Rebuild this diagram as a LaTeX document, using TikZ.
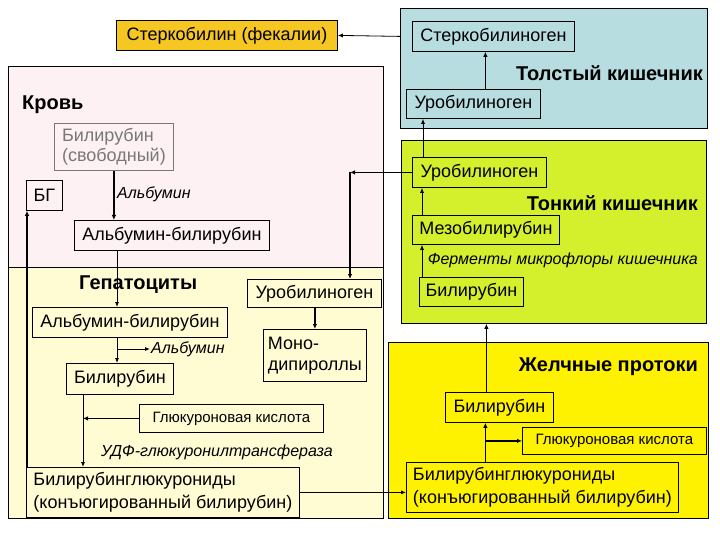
\documentclass[tikz,border=0pt]{standalone}
\usepackage{fontspec}
\setmainfont{Liberation Sans}
\usetikzlibrary{arrows.meta,calc}
\definecolor{gold}{RGB}{246,198,34}
\definecolor{tealbg}{RGB}{184,221,224}
\definecolor{bloodbg}{RGB}{253,241,243}
\definecolor{hepbg}{RGB}{255,252,212}
\definecolor{greenbg}{RGB}{212,240,44}
\definecolor{bilebg}{RGB}{255,242,0}
\definecolor{grayt}{RGB}{120,120,120}
\begin{document}
\begin{tikzpicture}[x=1pt,y=-1pt,
  every node/.style={font=\fontsize{18}{21}\selectfont},
  box/.style={draw=black, line width=0.8pt, inner sep=0pt, anchor=north west},
  region/.style={draw=black, line width=0.8pt, inner sep=0pt, anchor=north west},
  lbl/.style={font=\bfseries\fontsize{20}{22}\selectfont, inner sep=0pt},
  note/.style={font=\itshape\fontsize{16}{18}\selectfont, inner sep=1pt},
  small/.style={font=\fontsize{15}{17}\selectfont},
  arr/.style={-{Latex[length=5pt,width=4pt]}, line width=0.8pt},
  tarr/.style={-{Latex[length=5pt,width=4.5pt]}, line width=1.6pt},
]
\useasboundingbox[fill=white] (0,0) rectangle (720,540);
% regions
\node[region, fill=tealbg, minimum width=307, minimum height=120] (teal) at (400,8) {};
\node[region, fill=bloodbg, minimum width=375, minimum height=201] (blood) at (8,66) {};
\node[region, fill=hepbg, minimum width=375, minimum height=251] (hep) at (8,267) {};
\node[region, fill=greenbg, minimum width=305, minimum height=183] (green) at (401,140) {};
\node[region, fill=bilebg, minimum width=320, minimum height=176] (bile) at (388,342) {};
% region labels
\node[lbl, anchor=east] (tlab) at (703,73) {Толстый кишечник};
\node[lbl, anchor=west] (klab) at (22,105) {Кровь};
\node[lbl, anchor=west] (hlab) at (79,285) {Гепатоциты};
\node[lbl, anchor=east] (slab) at (698,203) {Тонкий кишечник};
\node[lbl, anchor=east] (blab) at (698,367) {Желчные протоки};
% boxes
\node[box, fill=gold, minimum width=221, minimum height=30] (sterk) at (116,20) {Стеркобилин (фекалии)};
\node[box, minimum width=162, minimum height=30] (sterkogen) at (412,21) {Стеркобилиноген};
\node[box, minimum width=134, minimum height=29] (uroL) at (406,89) {Уробилиноген};
\node[box, draw=grayt, text=grayt, align=left, font=\fontsize{18}{20}\selectfont, minimum width=119, minimum height=47] (bilfree) at (54,123) {Билирубин\\(свободный)};
\node[box, minimum width=36, minimum height=30] (bg) at (26,180) {БГ};
\node[note, anchor=west] (alb1) at (116,194) {Альбумин};
\node[box, minimum width=195, minimum height=30] (albB) at (74,220) {Альбумин-билирубин};
\node[box, minimum width=134, minimum height=28] (uroH) at (247,279) {Уробилиноген};
\node[box, minimum width=195, minimum height=30] (albH) at (32,307) {Альбумин-билирубин};
\node[box, align=left, minimum width=103, minimum height=52] (mono) at (263,329) {Моно-\\дипироллы};
\node[note, anchor=west] (alb2) at (150,349) {Альбумин};
\node[box, minimum width=107, minimum height=31] (bilH) at (66,363) {Билирубин};
\node[box, small, minimum width=184, minimum height=28] (gluH) at (139,404) {Глюкуроновая кислота};
\node[note, anchor=west] (udf) at (100,452) {УДФ-глюкуронилтрансфераза};
\node[box, align=left, font=\fontsize{18}{23}\selectfont, minimum width=273, minimum height=50] (bgH) at (26,467) {Билирубинглюкурониды\\(конъюгированный билирубин)};
\node[box, minimum width=134, minimum height=30] (uroS) at (412,157) {Уробилиноген};
\node[box, minimum width=147, minimum height=29] (mezo) at (412,215) {Мезобилирубин};
\node[note, anchor=east] (ferm) at (699,260) {Ферменты микрофлоры кишечника};
\node[box, minimum width=104, minimum height=29] (bilS) at (419,277) {Билирубин};
\node[box, minimum width=108, minimum height=30] (bilB) at (445,392) {Билирубин};
\node[box, small, minimum width=184, minimum height=27] (gluB) at (522,427) {Глюкуроновая кислота};
\node[box, align=left, font=\fontsize{18}{23}\selectfont, minimum width=272, minimum height=50] (bgB) at (406,462) {Билирубинглюкурониды\\(конъюгированный билирубин)};
% helper coordinates
\coordinate (ax) at (117,0);
\coordinate (bx) at (83,0);
\coordinate (cr) at ($(uroS.west)+(-62,0)$);
% connectors
\draw[arr] (teal.west |- sterkogen.west) -- (sterk.east);
\draw[tarr] ([xshift=12pt]uroL.north) -- ([xshift=12pt]uroL.north |- sterkogen.south);
\draw[arr] ([xshift=11pt]uroS.north west) -- ([xshift=11pt]uroS.north west |- uroL.south);
\draw[arr] ([xshift=10pt]mezo.north west) -- ([xshift=10pt]mezo.north west |- uroS.south);
\draw[arr] ([xshift=3pt]bilS.north west) -- ([xshift=3pt]bilS.north west |- mezo.south);
\draw[tarr] ([xshift=-13pt]bilB.north) -- ([xshift=-13pt]bilB.north |- green.south);
\draw[tarr] ([xshift=-14pt]bilB.south |- bgB.north) -- ([xshift=-14pt]bilB.south);
\draw[tarr] ([xshift=-14pt]bilB.south |- gluB.west) -- (gluB.west);
\draw[arr] (bgH.east) -- (bgH.east -| bgB.west);
\draw[tarr] ([xshift=1pt]bgH.north west) -- ([xshift=1pt]bgH.north west |- bg.south);
\draw[tarr] (bilfree.south) -- (bilfree.south |- albB.north);
\draw[arr] (ax |- albB.south) -- (ax |- albH.north);
\draw[arr] (ax |- albH.south) -- (ax |- bilH.north);
\draw[arr] (ax |- alb2.west) -- (alb2.west);
\draw[arr] (bx |- bilH.south) -- (bx |- bgH.north);
\draw[tarr] (gluH.west) -- (bx |- gluH.west);
\draw[tarr] (uroS.west) -- (cr);
\draw[tarr] (cr) -- (cr |- uroH.north);
\draw[tarr] (mono.north |- uroH.south) -- (mono.north);
\end{tikzpicture}
\end{document}
